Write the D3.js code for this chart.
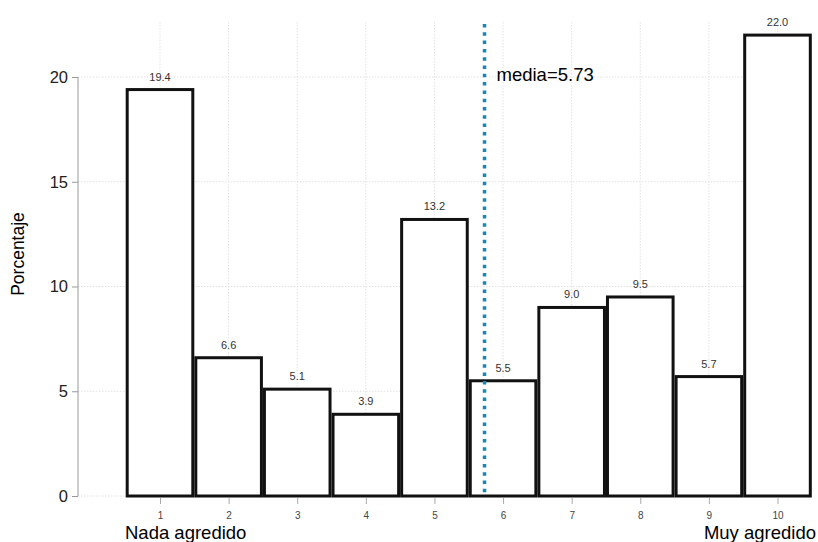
<!DOCTYPE html>
<html><head><meta charset="utf-8">
<script src="https://cdn.jsdelivr.net/npm/d3@7"></script>
<style>body{margin:0;background:#fff}svg{display:block}text{font-family:"Liberation Sans",Arial,sans-serif}</style>
</head><body>
<svg id="c" width="818" height="542"></svg>
<script>
const categories = [1,2,3,4,5,6,7,8,9,10];
const values = [19.4,6.6,5.1,3.9,13.2,5.5,9.0,9.5,5.7,22.0];
const yTicks = [0,5,10,15,20];
const meanValue = 5.73;
const meanLabel = "media=5.73";
const yTitle = "Porcentaje";
const leftLabel = "Nada agredido";
const rightLabel = "Muy agredido";

const svg = d3.select("#c");
const x = d3.scaleLinear().domain([1,10]).range([160,777.5]);
const step = x(2)-x(1);
const y = d3.scaleLinear().domain([0,20]).range([496,77]);
const yTop = 22, xLeft = 78, xRight = 807;

// grid
const g = svg.append("g");
g.selectAll("line.hg").data(yTicks).join("line")
  .attr("x1",xLeft).attr("x2",xRight).attr("y1",d=>y(d)).attr("y2",d=>y(d))
  .attr("stroke","#e2e2e2").attr("stroke-width",1).attr("stroke-dasharray","1.5 1.5");
g.selectAll("line.vg").data(categories).join("line")
  .attr("x1",d=>x(d)).attr("x2",d=>x(d)).attr("y1",yTop).attr("y2",496)
  .attr("stroke","#e2e2e2").attr("stroke-width",1).attr("stroke-dasharray","1.5 1.5");

// bars
svg.append("g").selectAll("rect").data(values).join("rect")
  .attr("x",(d,i)=>x(categories[i])-step/2+1.5)
  .attr("width",step-3)
  .attr("y",d=>y(d))
  .attr("height",d=>y(0)-y(d))
  .attr("fill","#fff").attr("stroke","#111").attr("stroke-width",3);

// value labels
svg.append("g").selectAll("text").data(values).join("text")
  .attr("x",(d,i)=>x(categories[i])).attr("y",d=>y(d)-9)
  .attr("text-anchor","middle").attr("font-size",11).attr("fill","#333")
  .text(d=>d.toFixed(1));

// y axis
const ya = svg.append("g").attr("transform",`translate(${xLeft},0)`)
  .call(d3.axisLeft(y).tickValues(yTicks).tickSize(6).tickPadding(4));
ya.select(".domain").attr("stroke","#999").attr("d",`M-0,${y(20)}V${y(0)}`);
ya.selectAll(".tick line").attr("stroke","#999");
ya.selectAll(".tick text").attr("font-size",16.5).attr("fill","#222").attr("font-family","Liberation Sans, Arial, sans-serif");

// x axis ticks
const xa = svg.append("g").attr("transform",`translate(0,498)`)
  .call(d3.axisBottom(x).tickValues(categories).tickSize(6).tickPadding(8).tickFormat(d3.format("d")));
xa.select(".domain").remove();
xa.selectAll(".tick line").attr("stroke","#aaa");
xa.selectAll(".tick text").attr("font-size",10).attr("fill","#444").attr("font-family","Liberation Sans, Arial, sans-serif");

// mean line
svg.append("line").attr("x1",x(meanValue)).attr("x2",x(meanValue)).attr("y1",24).attr("y2",496)
  .attr("stroke","#1b86b0").attr("stroke-width",3.5).attr("stroke-dasharray","3.5 4.8");
svg.append("text").attr("x",x(meanValue)+12).attr("y",81).attr("font-size",18.5).attr("fill","#000").text(meanLabel);

// titles
svg.append("text").attr("transform","translate(24,254) rotate(-90)").attr("text-anchor","middle")
  .attr("font-size",17.5).attr("fill","#000").text(yTitle);
svg.append("text").attr("x",x(1)-35).attr("y",539).attr("font-size",18.5).attr("fill","#000").text(leftLabel);
svg.append("text").attr("x",816).attr("y",539).attr("text-anchor","end").attr("font-size",18.5).attr("fill","#000").text(rightLabel);
</script>
</body></html>
